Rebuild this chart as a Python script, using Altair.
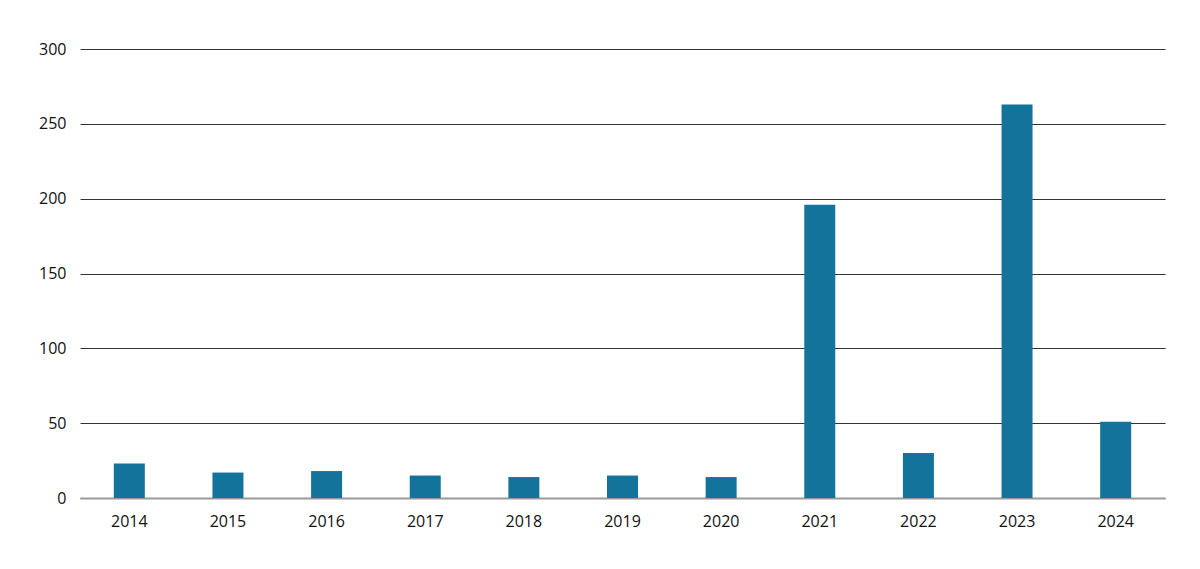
import altair as alt
import pandas as pd

years = ["2014", "2015", "2016", "2017", "2018", "2019", "2020", "2021", "2022", "2023", "2024"]
values = [23, 17, 18, 15, 14, 15, 14, 196, 30, 263, 51]
y_ticks = [0, 50, 100, 150, 200, 250, 300]

df = pd.DataFrame({"year": years, "value": values})

FONT = "Open Sans"

bars = alt.Chart(df).mark_bar(size=31, color="#13739a").encode(
    x=alt.X("year:N", sort=years,
            scale=alt.Scale(paddingInner=0, paddingOuter=0),
            axis=alt.Axis(title=None, labelAngle=0, ticks=False, domain=True,
                          domainColor="#999999", domainWidth=2,
                          labelPadding=15, labelFontSize=16, labelFont=FONT,
                          labelColor="#111111")),
    y=alt.Y("value:Q", scale=alt.Scale(domain=[0, 300], nice=False),
            axis=alt.Axis(title=None, values=y_ticks, ticks=False, domain=False,
                          grid=True, gridColor="#333333", gridWidth=1,
                          labelPadding=14, labelFontSize=16, labelFont=FONT,
                          labelColor="#111111")),
)

chart = bars.properties(
    width=1085, height=449,
    autosize=alt.AutoSizeParams(type="none"),
    padding={"left": 72, "top": 41, "right": 20, "bottom": 60},
).configure(background="white").configure_view(stroke=None, strokeWidth=0)

chart.save("out.html", embed_options={"renderer": "svg", "actions": False})
